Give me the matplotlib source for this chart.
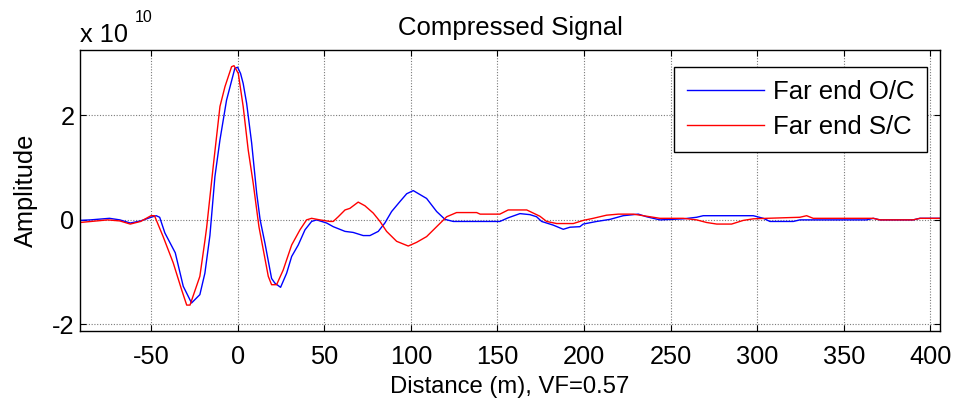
import matplotlib
matplotlib.use("Agg")
import matplotlib.pyplot as plt
import numpy as np

plt.rcParams['font.family'] = ['Liberation Sans', 'DejaVu Sans']
plt.rcParams['axes.unicode_minus'] = False

# Distance (m) and compressed amplitude (x 1e10) for the open-circuit far end
dist_oc = [-91, -85, -74, -68, -62, -56, -50, -47, -45, -42, -36, -31.4, -26.6,
           -21.8, -18.9, -16, -13.1, -10.2, -6.4, -1.6, 0, 1.7, 3.2, 5.2, 8.1,
           11, 13, 15.8, 19.6, 21.5, 24.8, 28.3, 31.2, 35, 38.9, 42.7, 45.6,
           51.4, 55.2, 62, 66.7, 72.5, 76.4, 81.2, 85, 88.9, 93.7, 97.6, 101.4,
           109.1, 114.9, 119.7, 124.5, 151.4, 156.2, 163, 168.8, 172.6, 175.5,
           182.2, 188, 191.9, 197.6, 199.5, 207.3, 215, 222.6, 231.3, 236.1,
           243.8, 257.3, 265, 268.8, 297.7, 303.5, 307.3, 320.8, 324.6, 363.1,
           367, 370.8, 390, 393.9, 405.5]
amp_oc = [-0.01, 0.0, 0.03, 0.0, -0.06, -0.02, 0.05, 0.08, 0.05, -0.25, -0.63,
          -1.27, -1.59, -1.43, -1.02, -0.3, 0.83, 1.53, 2.29, 2.90, 2.92, 2.80,
          2.61, 2.23, 1.47, 0.51, 0.0, -0.45, -1.12, -1.21, -1.29, -1.02, -0.70,
          -0.48, -0.19, -0.03, 0.0, -0.06, -0.13, -0.22, -0.24, -0.30, -0.30,
          -0.22, -0.06, 0.16, 0.35, 0.50, 0.56, 0.41, 0.16, 0.01, -0.03, -0.03,
          0.04, 0.12, 0.10, 0.06, -0.03, -0.10, -0.18, -0.14, -0.13, -0.08,
          -0.03, 0.01, 0.08, 0.11, 0.06, 0.0, 0.02, 0.05, 0.08, 0.08, 0.03,
          -0.03, -0.03, 0.0, 0.0, 0.03, 0.0, 0.0, 0.03, 0.03]

# Distance (m) and compressed amplitude (x 1e10) for the short-circuit far end
dist_sc = [-91, -75, -68, -62, -56, -50, -48, -43, -37.2, -32.3, -29.4, -27.5,
           -21.8, -18.9, -17.9, -14.1, -10.2, -7.3, -3.5, -2.1, 0.4, 3.2, 6.1,
           9, 12.3, 14.8, 17.7, 19.6, 22.5, 26.3, 31.2, 36, 39.8, 42.7, 47.5,
           53.3, 55.2, 58.1, 62, 64.8, 69.6, 73.5, 78.3, 82.2, 86, 91.8, 98.5,
           103.3, 109.1, 114.9, 120.7, 126.4, 138, 140, 151.4, 156.2, 166.9,
           174.5, 178.4, 184.2, 193.8, 199.5, 205.3, 213, 219.8, 228.4, 234.2,
           243.8, 257.3, 265, 270.8, 276.6, 285.2, 291.9, 297.7, 305.4, 324.6,
           328.5, 332.3, 363.1, 367, 370.8, 390, 393.9, 405.5]
amp_sc = [-0.05, 0.0, -0.02, -0.08, -0.03, 0.08, 0.08, -0.32, -0.82, -1.34,
          -1.63, -1.63, -1.08, -0.4, -0.15, 1.02, 2.17, 2.55, 2.93, 2.95, 2.80,
          2.17, 1.34, 0.70, -0.13, -0.57, -1.08, -1.24, -1.24, -0.96, -0.48,
          -0.19, 0.0, 0.03, 0.0, -0.03, -0.03, 0.06, 0.19, 0.22, 0.34, 0.27,
          0.13, -0.03, -0.22, -0.41, -0.50, -0.43, -0.32, -0.13, 0.06, 0.14,
          0.14, 0.11, 0.11, 0.19, 0.19, 0.07, -0.03, -0.07, -0.07, -0.01, 0.03,
          0.09, 0.11, 0.11, 0.08, 0.03, 0.03, 0.0, -0.05, -0.08, -0.08, -0.01,
          0.02, 0.03, 0.05, 0.08, 0.03, 0.03, 0.03, 0.0, 0.0, 0.03, 0.03]

x_ticks = [-50, 0, 50, 100, 150, 200, 250, 300, 350, 400]
y_ticks = [-2, 0, 2]
series_labels = ['Far end O/C', 'Far end S/C']

FS = 18.3

fig = plt.figure(figsize=(9.59, 4.08), dpi=100)
ax = fig.add_axes([80 / 959, 1 - 330.7 / 408, 860 / 959, 280.7 / 408])

ax.plot(dist_oc, amp_oc, color=(0, 0, 1), lw=1.0, label=series_labels[0])
ax.plot(dist_sc, amp_sc, color=(1, 0, 0), lw=1.0, label=series_labels[1])

ax.set_xlim(-91, 405.5)
ax.set_ylim(-2.12, 3.25)
ax.set_xticks(x_ticks)
ax.set_xticklabels([str(v) for v in x_ticks])
ax.set_yticks(y_ticks)
ax.set_yticklabels([str(v) for v in y_ticks])
ax.grid(True, color='#7a7a7a', linestyle=(0, (1, 1.5)), linewidth=0.8)
ax.tick_params(direction='in', length=4, width=0.8, top=True, right=True,
               labelsize=FS, colors='black')
ax.tick_params(axis='x', pad=10)
ax.tick_params(axis='y', pad=4)
for sp in ax.spines.values():
    sp.set_linewidth(1.0)

ax.set_title('Compressed Signal', fontsize=18.5, pad=11)
ax.set_xlabel('Distance (m), VF=0.57', fontsize=17.2, labelpad=5)
ax.set_ylabel('Amplitude', fontsize=FS, labelpad=10)

# exponent marker for the amplitude axis
fig.text(80 / 959, 1 - 41.7 / 408, 'x 10', fontsize=FS, ha='left', va='baseline')
fig.text(135 / 959, 1 - 22.5 / 408, '10', fontsize=11.5, ha='left', va='baseline')

leg = ax.legend(loc='upper right', fontsize=18.5, frameon=True, fancybox=False,
                edgecolor='black', framealpha=1, borderpad=0.5,
                borderaxespad=0, handlelength=3.0, handletextpad=0.35,
                labelspacing=0.45,
                bbox_to_anchor=((927 - 80) / 860, 1 - (66.7 - 50) / 280.7),
                bbox_transform=ax.transAxes)
leg.get_frame().set_linewidth(1.0)

fig.savefig('out.png', dpi=100)
